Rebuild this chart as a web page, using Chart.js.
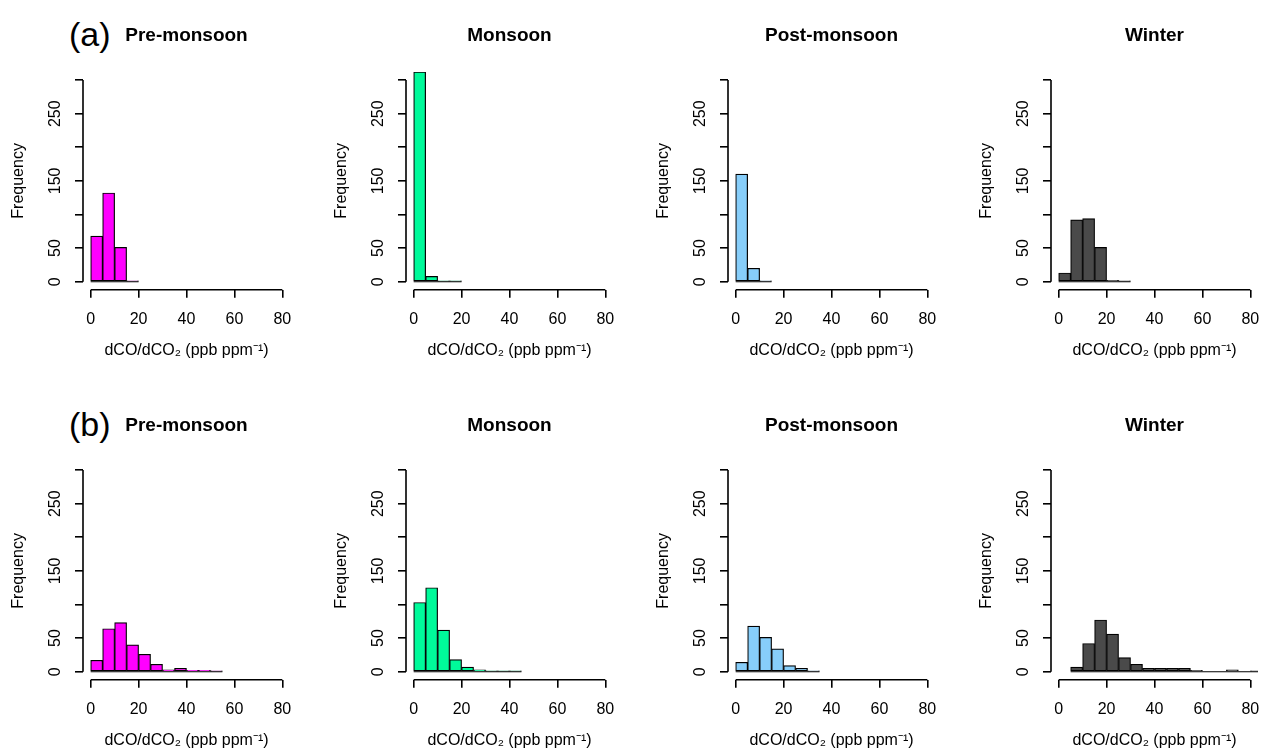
<!DOCTYPE html>
<html lang="en">
<head>
    <meta charset="UTF-8">
    <title>dCO/dCO2 histograms</title>
    <style>
        html, body {
            margin: 0;
            padding: 0;
            background: #fff;
            width: 1261px;
            height: 752px;
            overflow: hidden;
            position: relative;
            font-family: "Liberation Sans", Arial, sans-serif;
        }
        .panel {
            position: absolute;
            width: 300px;
            height: 362px;
        }
        .tag {
            position: absolute;
            font-size: 34px;
            line-height: 34px;
            color: #000;
        }
    </style>
</head>
<body>
    <div class="tag" style="left:69px; top:17px;">(a)</div>
    <div class="tag" style="left:69px; top:407px;">(b)</div>

    <div class="panel" style="left:0px; top:0px;"><canvas id="a0"></canvas></div>
    <div class="panel" style="left:323px; top:0px;"><canvas id="a1"></canvas></div>
    <div class="panel" style="left:645px; top:0px;"><canvas id="a2"></canvas></div>
    <div class="panel" style="left:968px; top:0px;"><canvas id="a3"></canvas></div>
    <div class="panel" style="left:0px; top:390px;"><canvas id="b0"></canvas></div>
    <div class="panel" style="left:323px; top:390px;"><canvas id="b1"></canvas></div>
    <div class="panel" style="left:645px; top:390px;"><canvas id="b2"></canvas></div>
    <div class="panel" style="left:968px; top:390px;"><canvas id="b3"></canvas></div>

    <script src="https://cdn.jsdelivr.net/npm/chart.js@4.4.1/dist/chart.umd.min.js"></script>
    <script>
        // seasons and colours
        const seasons = ['Pre-monsoon', 'Monsoon', 'Post-monsoon', 'Winter'];
        const seasonColors = ['#FF00FF', '#00FA9A', '#87CEFA', '#4A4A4A'];

        // histogram bins are 5 ppb/ppm wide
        const binWidth = 5;
        const firstBinA = [0, 0, 0, 0];
        const firstBinB = [0, 0, 0, 5];

        // (a) counts per bin
        const preA  = [68, 132, 51, 1];
        const monA  = [312, 8, 1, 1];
        const postA = [160, 20, 1];
        const winA  = [13, 92, 94, 51, 2, 1];

        // (b) counts per bin
        const preB  = [17, 64, 73, 40, 26, 11, 3, 5, 2, 2, 1];
        const monB  = [103, 125, 62, 18, 7, 3, 1, 1, 1];
        const postB = [14, 68, 51, 34, 9, 5, 1];
        const winB  = [7, 42, 77, 56, 21, 11, 5, 5, 5, 5, 2, 0, 0, 3, 0, 1];

        // axes
        const xTicks = [0, 20, 40, 60, 80];
        const yTicks = [0, 50, 100, 150, 200, 250, 300];
        const yTickLabels = ['0', '50', '', '150', '', '250', ''];
        const xRange = [-3.2, 83.2];
        const yRange = [-12, 312];
        const xTitle = 'dCO/dCO\u2082 (ppb ppm\u207B\u00B9)';
        const yTitle = 'Frequency';

        const fontFamily = '"Liberation Sans", Arial, sans-serif';

        // R style axis line: only from first to last tick
        const rAxes = {
            id: 'rAxes',
            afterDraw(chart) {
                const {ctx, scales: {x, y}} = chart;
                ctx.save();
                ctx.strokeStyle = '#000';
                ctx.lineWidth = 1.6;
                ctx.beginPath();
                ctx.moveTo(x.getPixelForValue(xTicks[0]), x.top);
                ctx.lineTo(x.getPixelForValue(xTicks[xTicks.length - 1]), x.top);
                ctx.moveTo(y.right, y.getPixelForValue(yTicks[0]));
                ctx.lineTo(y.right, y.getPixelForValue(yTicks[yTicks.length - 1]));
                ctx.stroke();
                ctx.restore();
            }
        };

        function createHist(id, title, counts, firstBin, color) {
            const bars = counts.map((c, i) => ({x: firstBin + binWidth * (i + 0.5), y: c}));
            const lastEdge = firstBin + binWidth * counts.length;

            new Chart(document.getElementById(id), {
                data: {
                    datasets: [{
                        type: 'line',
                        data: [{x: firstBin, y: 0}, {x: lastEdge, y: 0}],
                        borderColor: '#000',
                        borderWidth: 1.2,
                        pointRadius: 0,
                        order: 1
                    }, {
                        type: 'bar',
                        data: bars,
                        backgroundColor: color,
                        borderColor: '#000',
                        borderWidth: 1.2,
                        borderSkipped: false,
                        barPercentage: 1,
                        categoryPercentage: 1,
                        order: 2
                    }]
                },
                options: {
                    responsive: true,
                    maintainAspectRatio: false,
                    animation: false,
                    layout: {padding: {left: 0, right: 10, top: 0, bottom: 0}},
                    plugins: {
                        legend: {display: false},
                        tooltip: {enabled: false},
                        title: {
                            display: true,
                            text: title,
                            fullSize: false,
                            color: '#000',
                            font: {family: fontFamily, size: 19, weight: 'bold', lineHeight: 1.2},
                            padding: {top: 24.6, bottom: 24.6}
                        }
                    },
                    scales: {
                        x: {
                            type: 'linear',
                            min: xRange[0],
                            max: xRange[1],
                            offset: false,
                            afterBuildTicks: s => { s.ticks = xTicks.map(v => ({value: v})); },
                            afterFit: s => {
                                s.height = 72.2;
                                s.paddingLeft = 0;
                                s.paddingRight = 0;
                            },
                            border: {display: false},
                            grid: {offset: false, drawOnChartArea: false, drawTicks: true, tickLength: 8, color: '#000', lineWidth: 1.6},
                            ticks: {
                                color: '#000',
                                font: {family: fontFamily, size: 16},
                                padding: 12,
                                maxRotation: 0,
                                autoSkip: false
                            },
                            title: {
                                display: true,
                                text: xTitle,
                                color: '#000',
                                font: {family: fontFamily, size: 16, lineHeight: 1.2},
                                padding: {top: 0, bottom: 1.4}
                            }
                        },
                        y: {
                            type: 'linear',
                            min: yRange[0],
                            max: yRange[1],
                            afterBuildTicks: s => { s.ticks = yTicks.map(v => ({value: v})); },
                            afterFit: s => {
                                s.width = 83;
                                s.paddingTop = 0;
                                s.paddingBottom = 0;
                            },
                            border: {display: false},
                            grid: {drawOnChartArea: false, drawTicks: true, tickLength: 8, color: '#000', lineWidth: 1.6},
                            ticks: {
                                color: '#000',
                                font: {family: fontFamily, size: 16},
                                padding: 6,
                                minRotation: 90,
                                maxRotation: 90,
                                crossAlign: 'center',
                                autoSkip: false,
                                callback: (v, i) => yTickLabels[i]
                            },
                            title: {
                                display: true,
                                text: yTitle,
                                color: '#000',
                                font: {family: fontFamily, size: 16, lineHeight: 1.2},
                                padding: {top: 9.4, bottom: 0}
                            }
                        }
                    }
                },
                plugins: [rAxes]
            });
        }

        const rowA = [preA, monA, postA, winA];
        const rowB = [preB, monB, postB, winB];
        seasons.forEach((s, i) => {
            createHist('a' + i, s, rowA[i], firstBinA[i], seasonColors[i]);
            createHist('b' + i, s, rowB[i], firstBinB[i], seasonColors[i]);
        });
    </script>
</body>
</html>
